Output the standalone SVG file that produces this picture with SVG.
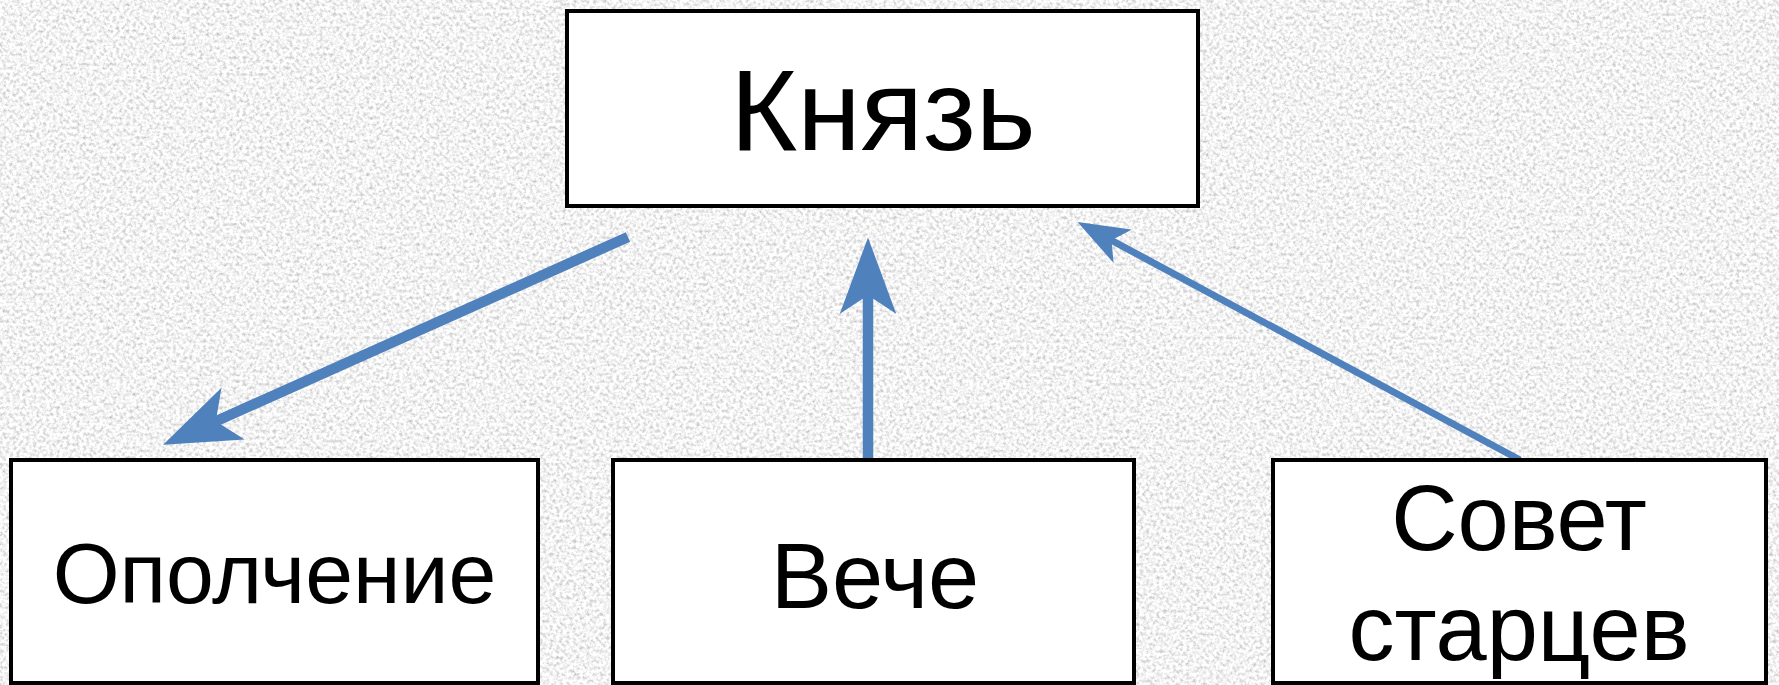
<svg xmlns="http://www.w3.org/2000/svg" width="1779" height="685" viewBox="0 0 1779 685">
  <style>
    .box { fill: #ffffff; stroke: #000000; stroke-width: 4; }
    .lbl { font-family: "Liberation Sans", Arial, sans-serif; fill: #000000; text-anchor: middle; }
    .conn { stroke: #4F81BD; fill: none; stroke-linecap: butt; }
  </style>
  <defs>
    <filter id="granite" x="0" y="0" width="100%" height="100%">
      <feTurbulence type="fractalNoise" baseFrequency="0.3" numOctaves="3" seed="7" result="n"/>
      <feColorMatrix in="n" type="matrix" values="0.95 0 0 0 0.42  0.95 0 0 0 0.42  0.95 0 0 0 0.42  0 0 0 0 1"/>
    </filter>
    <marker id="arrow" viewBox="0 -2.7 7.3 5.4" markerWidth="7.3" markerHeight="5.4" refX="2.2" refY="0" orient="auto" markerUnits="strokeWidth">
      <path d="M0,-2.7 L7.3,0 L0,2.7 L1.8,0 Z" fill="#4F81BD"/>
    </marker>
  </defs>

  <rect x="0" y="0" width="1779" height="685" fill="#e6e6e6"/>
  <rect x="0" y="0" width="1779" height="685" filter="url(#granite)"/>

  <g id="connectors">
    <line class="conn" x1="628" y1="237" x2="212" y2="423" stroke-width="10.5" marker-end="url(#arrow)"/>
    <line class="conn" x1="868" y1="460" x2="868" y2="291" stroke-width="10.5" marker-end="url(#arrow)"/>
    <line class="conn" x1="1520" y1="460" x2="1109" y2="239" stroke-width="7" marker-end="url(#arrow)"/>
  </g>

  <g id="node-knyaz">
    <rect class="box" x="567" y="11" width="631" height="195"/>
    <text class="lbl" x="883" y="150" font-size="115">Князь</text>
  </g>

  <g id="node-opolchenie">
    <rect class="box" x="11" y="460" width="527" height="223"/>
    <text class="lbl" x="274.5" y="603" font-size="86">Ополчение</text>
  </g>

  <g id="node-veche">
    <rect class="box" x="613" y="460" width="521" height="223"/>
    <text class="lbl" x="875" y="608" font-size="92">Вече</text>
  </g>

  <g id="node-sovet">
    <rect class="box" x="1273" y="460" width="493" height="223"/>
    <text class="lbl" x="1519" y="550" font-size="92">Совет</text>
    <text class="lbl" x="1519" y="660" font-size="92">старцев</text>
  </g>
</svg>
